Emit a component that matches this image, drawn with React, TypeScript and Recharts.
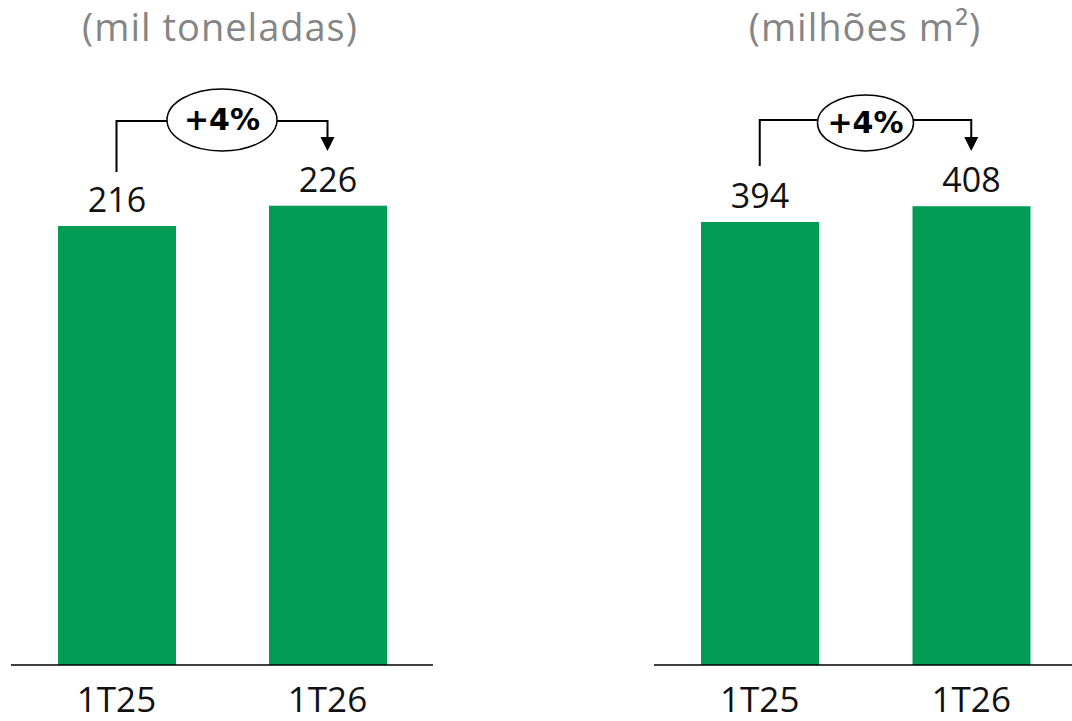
import React from 'react'
import { BarChart, Bar, XAxis, YAxis, LabelList, ReferenceLine } from 'recharts'

const categories = ['1T25', '1T26']
const volumeTons = [216, 226]       // mil toneladas
const volumeArea = [394, 408]       // milhões m²
const panelTitles = ['(mil toneladas)', '(milhões m²)']
const growthLabels = ['+4%', '+4%']
// height (in data units) where the growth bracket runs
const bracketLevels = [267.7, 484.7]

const GREEN = '#009b55'
const FONT = '"Open Sans", "Noto Sans", sans-serif'

const CategoryTick = ({ x, y, payload }: any) => (
  <text x={x} y={y + 47} textAnchor="middle" fontSize={35} fontFamily={FONT} fill="#111">
    {payload.value}
  </text>
)

interface BracketStyle { legLeft: number; legRight: number; rx: number; ry: number; dy: number }

// bracket from first bar to second bar, with the growth bubble in the middle
function Bracket({ x1, y1, x2, label, s }: any) {
  const st: BracketStyle = s
  const mx = (x1 + x2) / 2
  const tip = y1 + st.legRight
  return (
    <g>
      <polyline
        points={`${x1},${y1 + st.legLeft} ${x1},${y1} ${x2},${y1} ${x2},${tip - 12}`}
        fill="none" stroke="#000" strokeWidth={2}
      />
      <polygon points={`${x2 - 7},${tip - 14} ${x2 + 7},${tip - 14} ${x2},${tip}`} fill="#000" />
      <ellipse cx={mx} cy={y1 + st.dy} rx={st.rx} ry={st.ry} fill="#fff" stroke="#000" strokeWidth={1.5} />
      <text
        x={mx} y={y1 + st.dy} textAnchor="middle" dominantBaseline="central"
        fontSize={30} fontWeight="bold" fontFamily='"DejaVu Sans", sans-serif' fill="#000"
      >
        {label}
      </text>
    </g>
  )
}

interface PanelProps {
  left: number; width: number; mLeft: number; mRight: number
  values: number[]; domainMax: number; level: number; growth: string; bs: BracketStyle
}

function Panel({ left, width, mLeft, mRight, values, domainMax, level, growth, bs }: PanelProps) {
  const data = categories.map((c, i) => ({ name: c, value: values[i] }))
  return (
    <div style={{ position: 'absolute', left, top: 0 }}>
      <BarChart width={width} height={721} data={data} margin={{ top: 100, right: mRight, bottom: 0, left: mLeft }}>
        <XAxis
          dataKey="name" height={56} tickLine={false} tickSize={0} tickMargin={0}
          axisLine={{ stroke: '#000', strokeWidth: 1.5 }} tick={<CategoryTick />} interval={0}
        />
        <YAxis hide domain={[0, domainMax]} />
        <Bar dataKey="value" fill={GREEN} barSize={118} isAnimationActive={false}>
          <LabelList dataKey="value" position="top" offset={14} fontSize={34} fontFamily={FONT} fill="#111" />
        </Bar>
        <ReferenceLine
          segment={[{ x: categories[0], y: level }, { x: categories[1], y: level }]}
          shape={(p: any) => <Bracket {...p} label={growth} s={bs} />}
        />
      </BarChart>
    </div>
  )
}

export default function App() {
  const titleStyle = { letterSpacing: 1 }
  return (
    <div style={{ position: 'absolute', left: 0, top: 0, width: 1072, height: 721, overflow: 'hidden', background: '#fff' }}>
      <svg width={1072} height={60} style={{ position: 'absolute', left: 0, top: 0 }}>
        <text x={220} y={41} textAnchor="middle" fontSize={38} fontFamily={FONT} fill="#858585" style={titleStyle}>{panelTitles[0]}</text>
        <text x={865} y={41} textAnchor="middle" fontSize={38} fontFamily={FONT} fill="#858585" style={titleStyle}>{panelTitles[1]}</text>
      </svg>
      <Panel
        left={0} width={445} mLeft={11} mRight={12} values={volumeTons} domainMax={278}
        level={bracketLevels[0]} growth={growthLabels[0]}
        bs={{ legLeft: 51, legRight: 30, rx: 55, ry: 31, dy: -1 }}
      />
      <Panel
        left={640} width={450} mLeft={14} mRight={13} values={volumeArea} domainMax={502.4}
        level={bracketLevels[1]} growth={growthLabels[1]}
        bs={{ legLeft: 46, legRight: 31, rx: 48, ry: 28, dy: 3 }}
      />
    </div>
  )
}
